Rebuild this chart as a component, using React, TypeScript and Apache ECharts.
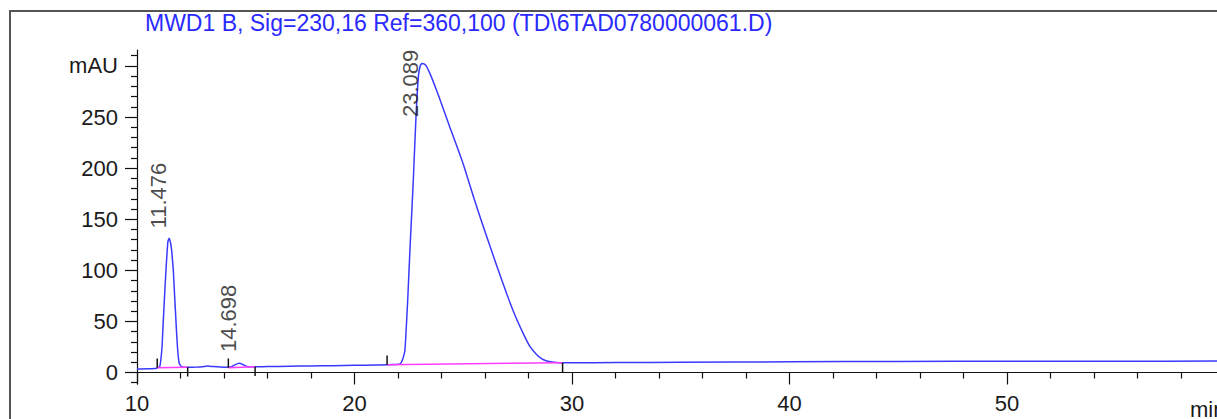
import React, { useEffect, useRef } from "react";
import * as echarts from "echarts";

// Chromatogram trace (retention time in min, signal in mAU)
const traceTime = [
  10.0, 10.5, 10.9, 11.05, 11.15, 11.21, 11.3, 11.36, 11.42, 11.48, 11.55, 11.6, 11.67, 11.73, 11.79, 11.86,
  11.94, 12.05, 12.3, 12.8, 13.0, 13.26, 13.5, 14.0, 14.3, 14.5, 14.7, 14.9, 15.1, 15.5, 16, 17, 18, 19, 20, 21,
  21.8, 22.1, 22.2, 22.32, 22.45, 22.55, 22.7, 22.83, 22.94, 23.02, 23.1, 23.2, 23.3, 23.5, 23.76, 24.0, 24.37,
  25.0, 25.5, 26.0, 26.5, 27.0, 27.4, 27.74, 28.05, 28.35, 28.6, 28.81, 29.1, 29.45, 30, 32,
  35, 40, 45, 50, 55, 59.7,
];
const traceValue = [
  3.4, 3.6, 4.2, 6, 25, 51, 88, 110, 128, 131.5, 126, 118, 100, 75, 51, 25,
  9, 5.8, 5.2, 5.3, 5.6, 6.3, 5.8, 5.2, 5.3, 7.5, 9, 7.5, 5.6, 5.6, 5.8, 6.1, 6.4, 6.7, 7, 7.4,
  7.8, 8.5, 12, 22, 72, 120, 186, 251, 290, 300, 302.5, 302, 300, 291, 277, 263, 241,
  204, 170, 138, 107, 77, 55, 39, 26, 18, 13.5, 11.5, 10.2, 9.6, 9.5, 9.7,
  10, 10.5, 10.8, 11, 11, 11.2,
];

// Integrated peaks
const peakTimes = [11.476, 14.698, 23.089];
const peakLabelBase = [141, 20, 250];
const peakStart = [10.93, 14.2, 21.5];
const peakStartValue = [4.7, 4.6, 7.6];
const peakEnd = [12.33, 15.43, 29.57];
const peakEndValue = [5.2, 5.6, 9.6];
const markLength = 9;

// Axis ticks
const xMajor = [10, 20, 30, 40, 50];
const xMinor = [12, 14, 16, 18, 22, 24, 26, 28, 32, 34, 36, 38, 42, 44, 46, 48, 52, 54, 56, 58];
const yMajor = [0, 50, 100, 150, 200, 250, 300];
const yMinor = [-10, 10, 20, 30, 40, 60, 70, 80, 90, 110, 120, 130, 140, 160, 170, 180, 190, 210, 220, 230, 240, 260, 270, 280, 290, 310];

const titleText = "MWD1 B, Sig=230,16 Ref=360,100 (TD\\6TAD0780000061.D)";

const FONT = "'Liberation Sans', Arial, sans-serif";
const X_MIN = 10;
const X_MAX = 59.66;
const Y_MIN = -11.25;
const Y_MAX = 315.6;

export default function App() {
  const ref = useRef<HTMLDivElement>(null);

  useEffect(() => {
    if (!ref.current) return;
    const chart = echarts.init(ref.current, undefined, { renderer: "svg" });

    const trace = traceTime.map((t, i) => [t, traceValue[i]]);
    const baselineSeries = peakStart.map((s, i) => ({
      type: "line",
      data: [
        [s, peakStartValue[i]],
        [peakEnd[i], peakEndValue[i]],
      ],
      showSymbol: false,
      lineStyle: { color: "#ff3cff", width: 1.5 },
      z: 3,
      silent: true,
    }));
    const startMarks = peakStart.map((s, i) => ({
      type: "line",
      data: [
        [s, peakStartValue[i]],
        [s, peakStartValue[i] + markLength],
      ],
      showSymbol: false,
      lineStyle: { color: "#111", width: 1.5 },
      z: 4,
      silent: true,
    }));
    const endMarks = peakEnd.map((s, i) => ({
      type: "line",
      data: [
        [s, peakEndValue[i]],
        [s, peakEndValue[i] - markLength],
      ],
      showSymbol: false,
      lineStyle: { color: "#111", width: 1.5 },
      z: 4,
      silent: true,
    }));

    const baseAxisLine = { show: true, lineStyle: { color: "#111", width: 1.2 } };

    chart.setOption({
      animation: false,
      backgroundColor: "#ffffff",
      grid: { left: 137, right: 0, top: 50, bottom: 35, containLabel: false, outerBoundsMode: "none" },
      xAxis: [
        {
          type: "value",
          min: X_MIN,
          max: X_MAX,
          position: "bottom",
          axisLine: baseAxisLine,
          axisTick: { show: true, length: 12, customValues: xMajor, lineStyle: { color: "#111", width: 1.2 } },
          axisLabel: { show: true, customValues: xMajor, fontSize: 22, color: "#1a1a1a", fontFamily: FONT, margin: 8 },
          splitLine: { show: false },
        },
        {
          type: "value",
          min: X_MIN,
          max: X_MAX,
          position: "bottom",
          axisLine: { show: false },
          axisTick: { show: true, length: 6, customValues: xMinor, lineStyle: { color: "#111", width: 1.2 } },
          axisLabel: { show: false },
          splitLine: { show: false },
        },
      ],
      yAxis: [
        {
          type: "value",
          min: Y_MIN,
          max: Y_MAX,
          position: "left",
          axisLine: baseAxisLine,
          axisTick: { show: true, length: 12, customValues: yMajor, lineStyle: { color: "#111", width: 1.2 } },
          axisLabel: {
            show: true,
            customValues: yMajor,
            fontSize: 22,
            color: "#1a1a1a",
            fontFamily: FONT,
            margin: 19,
            formatter: (v: number) => (v === 300 ? "mAU" : String(v)),
          },
          splitLine: { show: false },
        },
        {
          type: "value",
          min: Y_MIN,
          max: Y_MAX,
          position: "left",
          axisLine: { show: false },
          axisTick: { show: true, length: 6, customValues: yMinor, lineStyle: { color: "#111", width: 1.2 } },
          axisLabel: { show: false },
          splitLine: { show: false },
        },
      ],
      series: [
        {
          type: "line",
          data: trace,
          showSymbol: false,
          smooth: 0.15,
          lineStyle: { color: "#3a3aff", width: 1.5 },
          z: 2,
          silent: true,
        },
        ...baselineSeries,
        ...startMarks,
        ...endMarks,
        {
          type: "scatter",
          symbolSize: 0,
          data: peakTimes.map((t, i) => ({ name: t.toFixed(3), value: [t, peakLabelBase[i]] })),
          label: {
            show: true,
            formatter: (p: any) => p.name,
            position: [0, 0],
            rotate: 90,
            align: "left",
            verticalAlign: "bottom",
            fontSize: 22,
            color: "#1a1a1a",
            fontFamily: FONT,
          },
          z: 5,
          silent: true,
        },
      ],
      graphic: [
        {
          type: "rect",
          shape: { x: 10, y: 11, width: 1400, height: 600 },
          style: { fill: "none", stroke: "#555", lineWidth: 2 },
          silent: true,
          z: 0,
        },
        {
          type: "text",
          x: 145,
          y: 23,
          style: {
            text: titleText,
            fill: "#2a2aff",
            font: `23px ${FONT}`,
            verticalAlign: "middle",
          },
        },
        {
          type: "text",
          x: 1190,
          y: 409,
          style: {
            text: "min",
            fill: "#1a1a1a",
            font: `22px ${FONT}`,
            verticalAlign: "middle",
          },
        },
      ],
    });

    return () => chart.dispose();
  }, []);

  return (
    <div
      ref={ref}
      style={{ position: "fixed", left: 0, top: 0, width: 1217, height: 419 }}
    />
  );
}
